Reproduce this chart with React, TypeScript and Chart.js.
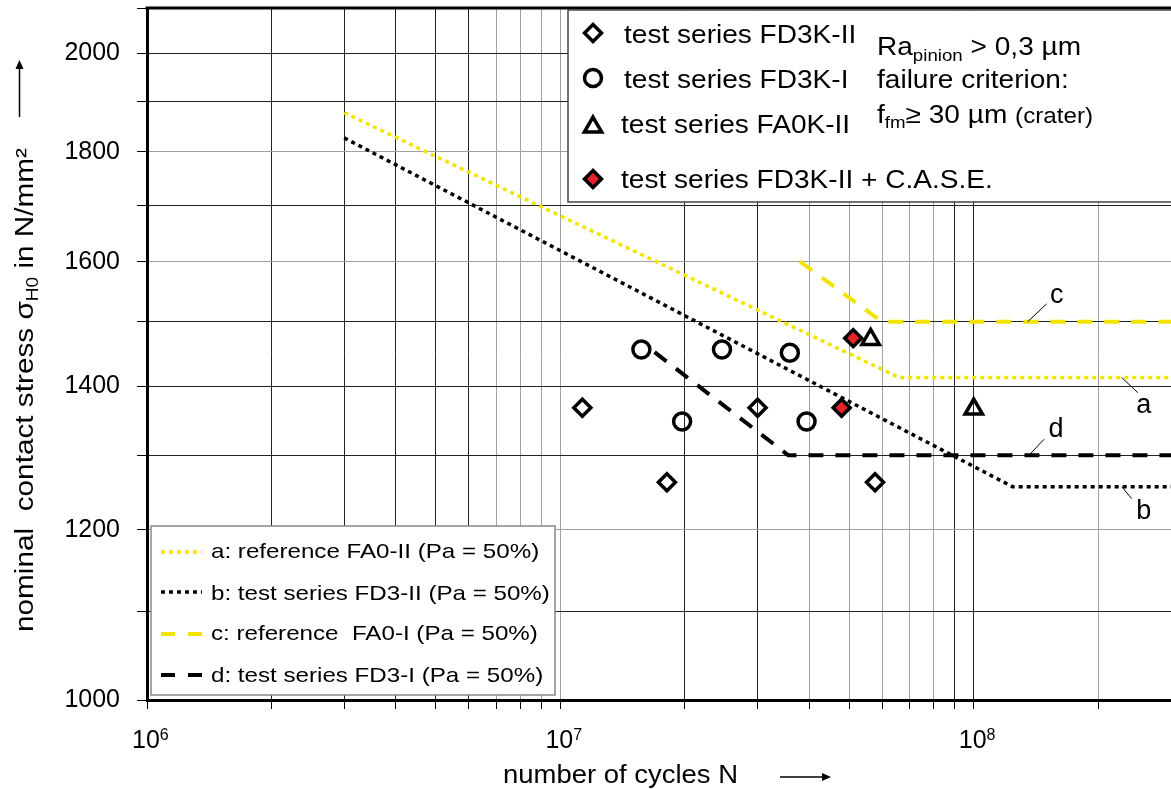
import React, { useEffect, useRef } from 'react';
import { Chart, registerables } from 'chart.js';

Chart.register(...registerables);

const FONT = "'Liberation Sans', Arial, Helvetica, sans-serif";
const YELLOW = '#f2e400';
const RED = '#e5232a';

// ---- axis ticks ----
const xTickValues = [1e6, 2e6, 3e6, 4e6, 5e6, 6e6, 7e6, 8e6, 9e6, 1e7, 2e7, 3e7, 4e7, 5e7, 6e7, 7e7, 8e7, 9e7, 1e8, 2e8, 3e8];
const xDarkGridValues = [1e6, 2e6, 3e6, 4e6, 5e6, 6e6, 2e7, 3e7, 9e7, 1e8];
const xLabelExponents = [6, 7, 8];
const yTickValues = [1000, 1100, 1200, 1300, 1400, 1500, 1600, 1700, 1800, 1900, 2000, 2100];
const yLabelValues = [1000, 1200, 1400, 1600, 1800, 2000];
const yLightGridValues = [1200, 1600, 1800];

// ---- test points (cycles N, stress N/mm²) ----
const fd3kIICycles = [1.13e7, 1.81e7, 3.0e7, 5.77e7];
const fd3kIIStress = [1368, 1263, 1368, 1263];
const fd3kICycles = [1.57e7, 1.97e7, 2.46e7, 3.59e7, 3.94e7];
const fd3kIStress = [1456, 1348, 1456, 1451, 1348];
const fa0kIICycles = [5.63e7, 1.0e8];
const fa0kIIStress = [1472, 1366];
const caseCycles = [5.11e7, 4.79e7];
const caseStress = [1474, 1368];

// ---- S-N curves ----
const curveACycles = [3.0e6, 6.6e7, 3.0e8];
const curveAStress = [1877, 1413, 1413];
const curveBCycles = [3.0e6, 1.24e8, 3.0e8];
const curveBStress = [1827, 1257, 1257];
const curveCCycles = [3.8e7, 6.0e7, 3.0e8];
const curveCStress = [1600, 1500, 1500];
const curveDCycles = [1.69e7, 3.56e7, 3.0e8];
const curveDStress = [1452, 1300, 1300];

// ---- texts ----
const markerLegendLabels = ['test series FD3K-II', 'test series FD3K-I', 'test series FA0K-II', 'test series FD3K-II + C.A.S.E.'];
const lineLegendLabels = ['a: reference FA0-II (Pa = 50%)', 'b: test series FD3-II (Pa = 50%)', 'c: reference  FA0-I (Pa = 50%)', 'd: test series FD3-I (Pa = 50%)'];
const curveLetters = ['a', 'b', 'c', 'd'];
const curveLetterAnchorCycles = [2.28e8, 2.28e8, 1.35e8, 1.36e8];
const curveLetterAnchorStress = [curveAStress[2], curveBStress[2], curveCStress[2], curveDStress[2]];

const pts = (xs: number[], ys: number[]) => xs.map((x, i) => ({ x, y: ys[i] }));

type Part = { t: string; s: number; dy?: number };

function partsWidth(ctx: CanvasRenderingContext2D, parts: Part[]) {
  let w = 0;
  for (const p of parts) {
    ctx.font = `${p.s}px ${FONT}`;
    w += ctx.measureText(p.t).width;
  }
  return w;
}

function drawParts(ctx: CanvasRenderingContext2D, parts: Part[], x: number, y: number, sx: number, rotate = false) {
  ctx.save();
  ctx.translate(x, y);
  if (rotate) ctx.rotate(-Math.PI / 2);
  ctx.scale(sx, 1);
  ctx.textAlign = 'left';
  ctx.textBaseline = 'alphabetic';
  ctx.fillStyle = '#000';
  let cx = 0;
  for (const p of parts) {
    ctx.font = `${p.s}px ${FONT}`;
    ctx.fillText(p.t, cx, p.dy || 0);
    cx += ctx.measureText(p.t).width;
  }
  ctx.restore();
  return cx * sx;
}

function drawMarker(ctx: CanvasRenderingContext2D, style: string, x: number, y: number, r: number, fill: string | null) {
  ctx.beginPath();
  if (style === 'rectRot') {
    ctx.moveTo(x - r, y);
    ctx.lineTo(x, y - r);
    ctx.lineTo(x + r, y);
    ctx.lineTo(x, y + r);
    ctx.closePath();
  } else if (style === 'circle') {
    ctx.arc(x, y, r, 0, Math.PI * 2);
    ctx.closePath();
  } else {
    let a = 0;
    ctx.moveTo(x + Math.sin(a) * r, y - Math.cos(a) * r);
    a += (2 * Math.PI) / 3;
    ctx.lineTo(x + Math.sin(a) * r, y - Math.cos(a) * r);
    a += (2 * Math.PI) / 3;
    ctx.lineTo(x + Math.sin(a) * r, y - Math.cos(a) * r);
    ctx.closePath();
  }
  if (fill) {
    ctx.fillStyle = fill;
    ctx.fill();
  }
  ctx.strokeStyle = '#000';
  ctx.lineWidth = 3.5;
  ctx.lineJoin = 'miter';
  ctx.stroke();
}

const annotPlugin = {
  id: 'annot',
  afterDraw(chart: any) {
    const { ctx, chartArea } = chart;
    const xs = chart.scales.x;
    const ys = chart.scales.y;
    ctx.save();

    // top frame line
    ctx.strokeStyle = '#000';
    ctx.lineWidth = 3;
    ctx.setLineDash([]);
    ctx.beginPath();
    ctx.moveTo(chartArea.left - 1.5, chartArea.top);
    ctx.lineTo(chartArea.right, chartArea.top);
    ctx.stroke();

    // curve letters with leader lines
    const leaderEnds = [[16, 15], [10, 12], [19, -18], [15, -16]];
    const letterOffsets = [[22, 35], [22, 32], [29, -19], [27, -18]];
    ctx.lineWidth = 1;
    ctx.strokeStyle = '#000';
    curveLetters.forEach((l, i) => {
      const ax = xs.getPixelForValue(curveLetterAnchorCycles[i]);
      const ay = ys.getPixelForValue(curveLetterAnchorStress[i]);
      ctx.beginPath();
      ctx.moveTo(ax, ay);
      ctx.lineTo(ax + leaderEnds[i][0], ay + leaderEnds[i][1]);
      ctx.stroke();
      ctx.font = `27px ${FONT}`;
      ctx.fillStyle = '#000';
      ctx.textAlign = 'center';
      ctx.textBaseline = 'alphabetic';
      ctx.fillText(l, ax + letterOffsets[i][0], ay + letterOffsets[i][1]);
    });

    // ---- top-right legend box ----
    ctx.fillStyle = '#fff';
    ctx.fillRect(568, 10, 620, 192);
    ctx.strokeStyle = '#444';
    ctx.lineWidth = 1.5;
    ctx.strokeRect(568, 10, 620, 192);

    const mStyles = ['rectRot', 'circle', 'triangle', 'rectRot'];
    const mRadius = [8.5, 8.5, 10, 8.5];
    const mFill = [null, null, null, RED];
    const mY = [33, 78, 127, 179];
    const tX = [624, 624, 621, 621];
    const tBase = [43, 88, 133, 188];
    markerLegendLabels.forEach((lab, i) => {
      drawMarker(ctx, mStyles[i], 593, mY[i], mRadius[i], mFill[i]);
      drawParts(ctx, [{ t: lab, s: 25.5 }], tX[i], tBase[i], 1.1);
    });
    drawParts(ctx, [{ t: 'Ra', s: 25.5 }, { t: 'pinion', s: 17, dy: 6 }, { t: ' > 0,3 µm', s: 25.5 }], 877, 55, 1.1);
    drawParts(ctx, [{ t: 'failure criterion:', s: 25.5 }], 877, 88, 1.1);
    drawParts(ctx, [{ t: 'f', s: 25.5 }, { t: 'fm', s: 17, dy: 5 }, { t: '≥ 30 µm ', s: 25.5 }, { t: '(crater)', s: 22 }], 877, 123, 1.1);

    // ---- bottom-left legend box ----
    ctx.fillStyle = '#fff';
    ctx.fillRect(151, 526, 404, 169);
    ctx.strokeStyle = '#888';
    ctx.lineWidth = 1.5;
    ctx.strokeRect(151, 526, 404, 169);
    const lColors = [YELLOW, '#000', YELLOW, '#000'];
    const lDash = [[4, 4], [4, 4], [14, 13], [14, 13]];
    const lWidth = [3.5, 3.5, 4, 4];
    const lY = [552, 592, 634, 675];
    const lBase = [558, 600, 640, 682];
    lineLegendLabels.forEach((lab, i) => {
      ctx.save();
      ctx.strokeStyle = lColors[i];
      ctx.lineWidth = lWidth[i];
      ctx.lineCap = 'butt';
      ctx.setLineDash(lDash[i]);
      ctx.beginPath();
      ctx.moveTo(161, lY[i]);
      ctx.lineTo(202, lY[i]);
      ctx.stroke();
      ctx.restore();
      drawParts(ctx, [{ t: lab, s: 21 }], 211, lBase[i], 1.15);
    });

    // ---- x tick labels 10^n ----
    xLabelExponents.forEach((e) => {
      const px = xs.getPixelForValue(Math.pow(10, e));
      drawParts(ctx, [{ t: '10', s: 25 }, { t: String(e), s: 16, dy: -8 }], px - 15, 748, 1.0);
    });

    // ---- x axis title ----
    const xTitle: Part[] = [{ t: 'number of cycles N', s: 25 }];
    const xw = partsWidth(ctx, xTitle);
    drawParts(ctx, xTitle, 503, 783, 235 / xw);
    ctx.strokeStyle = '#000';
    ctx.fillStyle = '#000';
    ctx.lineWidth = 1.5;
    ctx.beginPath();
    ctx.moveTo(780, 777);
    ctx.lineTo(824, 777);
    ctx.stroke();
    ctx.beginPath();
    ctx.moveTo(831, 777);
    ctx.lineTo(822, 773);
    ctx.lineTo(822, 781);
    ctx.closePath();
    ctx.fill();

    // ---- y axis title ----
    const yTitle: Part[] = [
      { t: 'nominal  contact stress σ', s: 25 },
      { t: 'H0', s: 16, dy: 5 },
      { t: ' in N/mm²', s: 25 },
    ];
    const yw = partsWidth(ctx, yTitle);
    drawParts(ctx, yTitle, 33, 632, 484 / yw, true);
    ctx.beginPath();
    ctx.moveTo(19.5, 117);
    ctx.lineTo(19.5, 67);
    ctx.stroke();
    ctx.beginPath();
    ctx.moveTo(19.5, 60);
    ctx.lineTo(15.5, 69);
    ctx.lineTo(23.5, 69);
    ctx.closePath();
    ctx.fill();

    ctx.restore();
  },
};

export default function App() {
  const canvasRef = useRef<HTMLCanvasElement | null>(null);

  useEffect(() => {
    const canvas = canvasRef.current;
    if (!canvas) return;
    const pointDs = (label: string, xs: number[], ys: number[], style: string, r: number, bg: string) => ({
      label,
      data: pts(xs, ys),
      showLine: false,
      pointStyle: style,
      pointRadius: r,
      pointHoverRadius: r,
      pointBorderWidth: 3.5,
      pointBorderColor: '#000',
      pointBackgroundColor: bg,
    });
    const lineDs = (label: string, xs: number[], ys: number[], color: string, dash: number[], w: number) => ({
      label,
      data: pts(xs, ys),
      showLine: true,
      fill: false,
      borderColor: color,
      borderWidth: w,
      borderDash: dash,
      borderCapStyle: 'butt',
      tension: 0,
      pointRadius: 0,
      pointHoverRadius: 0,
    });

    const chart: any = new Chart(canvas, {
      type: 'scatter',
      data: {
        datasets: [
          pointDs(markerLegendLabels[3], caseCycles, caseStress, 'rectRot', 8.5, RED),
          pointDs(markerLegendLabels[0], fd3kIICycles, fd3kIIStress, 'rectRot', 8.5, 'rgba(0,0,0,0)'),
          pointDs(markerLegendLabels[1], fd3kICycles, fd3kIStress, 'circle', 8.5, 'rgba(0,0,0,0)'),
          pointDs(markerLegendLabels[2], fa0kIICycles, fa0kIIStress, 'triangle', 10, 'rgba(0,0,0,0)'),
          lineDs(lineLegendLabels[0], curveACycles, curveAStress, YELLOW, [4, 4], 3.5),
          lineDs(lineLegendLabels[1], curveBCycles, curveBStress, '#000', [4, 4], 3.5),
          lineDs(lineLegendLabels[2], curveCCycles, curveCStress, YELLOW, [15, 12], 4),
          lineDs(lineLegendLabels[3], curveDCycles, curveDStress, '#000', [15, 12], 4),
        ] as any,
      },
      options: {
        animation: false,
        responsive: false,
        devicePixelRatio: 1,
        events: [],
        layout: { autoPadding: false, padding: { top: 8, right: 0, left: 0, bottom: 0 } },
        plugins: {
          legend: { display: false },
          tooltip: { enabled: false },
          title: { display: false },
        },
        scales: {
          x: {
            type: 'logarithmic',
            min: 1e6,
            max: 3e8,
            afterBuildTicks: (s: any) => {
              s.ticks = xTickValues.map((v) => ({ value: v }));
            },
            afterFit: (s: any) => {
              s.height = 89;
              s.paddingLeft = 0;
              s.paddingRight = 0;
            },
            ticks: { display: false, autoSkip: false },
            grid: {
              color: (c: any) => (xDarkGridValues.includes(c.tick?.value) ? '#222' : '#a0a0a0'),
              lineWidth: 1,
              drawTicks: true,
              tickLength: 9,
              tickColor: '#000',
            },
            border: { display: true, color: '#000', width: 3 },
          },
          y: {
            type: 'logarithmic',
            min: 1000,
            max: 2100,
            afterBuildTicks: (s: any) => {
              s.ticks = yTickValues.map((v) => ({ value: v }));
            },
            afterFit: (s: any) => {
              s.width = 147;
              s.paddingTop = 0;
              s.paddingBottom = 0;
            },
            ticks: {
              autoSkip: false,
              padding: 17,
              color: '#000',
              font: { family: FONT, size: 25 },
              callback: (v: any) => (yLabelValues.includes(Number(v)) ? String(v) : ''),
            },
            grid: {
              color: (c: any) => (yLightGridValues.includes(c.tick?.value) ? '#a0a0a0' : '#222'),
              lineWidth: 1,
              drawTicks: true,
              tickLength: 10,
              tickColor: '#000',
            },
            border: { display: true, color: '#000', width: 3 },
          },
        },
      } as any,
      plugins: [annotPlugin],
    });
    return () => chart.destroy();
  }, []);

  return (
    <div style={{ position: 'absolute', left: 0, top: 0, width: 1171, height: 789, background: '#fff' }}>
      <canvas ref={canvasRef} width={1171} height={789} style={{ display: 'block' }} />
    </div>
  );
}
